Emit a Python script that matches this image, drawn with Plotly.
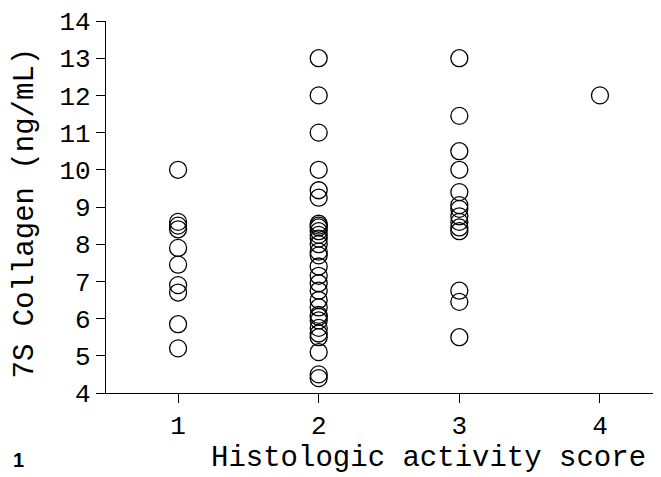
import plotly.graph_objects as go

# Histologic activity score groups and 7S collagen values (ng/mL)
score1 = [10.0, 8.6, 8.5, 8.4, 7.9, 7.45, 6.9, 6.7, 5.85, 5.2]
score2 = [13.0, 12.0, 11.0, 10.0, 9.45, 9.25, 8.55, 8.5, 8.45, 8.35, 8.25, 8.15,
          8.0, 7.8, 7.7, 7.4, 7.15, 6.95, 6.75, 6.5, 6.3, 6.1, 6.05, 5.95,
          5.75, 5.6, 5.5, 5.1, 4.5, 4.4]
score3 = [13.0, 11.45, 10.5, 10.0, 9.4, 9.05, 8.95, 8.75, 8.6, 8.45, 8.35,
          6.75, 6.45, 5.5]
score4 = [12.0]

groups = {1: score1, 2: score2, 3: score3, 4: score4}
x_ticks = [1, 2, 3, 4]
y_ticks = [4, 5, 6, 7, 8, 9, 10, 11, 12, 13, 14]

xs, ys = [], []
for k, vals in groups.items():
    xs += [k] * len(vals)
    ys += vals

fig = go.Figure()
fig.add_trace(go.Scatter(
    x=xs, y=ys, mode="markers",
    marker=dict(symbol="circle-open", size=17, color="black",
                line=dict(width=1.3, color="black")),
    showlegend=False, hoverinfo="skip"))

mono = "Liberation Mono, Courier New, monospace"
# page has an 8px body margin; figure sized to fill the rest of the window
W, H = 653, 469
L, R, T, B = 98, 0, 10, 84
PW, PH = W - L - R, H - T - B

fig.update_layout(
    width=W, height=H,
    margin=dict(l=L, r=R, t=T, b=B),
    paper_bgcolor="white", plot_bgcolor="white",
    font=dict(family=mono, color="black", size=26),
    xaxis=dict(range=[0.4875, 4.434], tickvals=x_ticks,
               ticktext=[str(v) for v in x_ticks],
               ticks="outside", ticklen=9, tickwidth=1.2, tickcolor="black",
               showline=True, linecolor="black", linewidth=1.3,
               showgrid=False, zeroline=False, fixedrange=True,
               ticklabeloverflow="allow",
               tickfont=dict(family=mono, size=26)),
    yaxis=dict(range=[4, 14], tickvals=y_ticks,
               ticktext=[str(v) for v in y_ticks],
               ticks="outside", ticklen=9, tickwidth=1.2, tickcolor="black",
               showline=True, linecolor="black", linewidth=1.3,
               showgrid=False, zeroline=False, fixedrange=True,
               ticklabeloverflow="allow",
               tickfont=dict(family=mono, size=26)),
    annotations=[
        dict(text="Histologic activity score", xref="paper", yref="paper",
             x=(420.5 - L) / PW, y=(PH - (451 - T)) / PH, showarrow=False,
             xanchor="center", yanchor="middle", borderpad=0,
             font=dict(family=mono, size=29)),
        dict(text="7S Collagen (ng/mL)", xref="paper", yref="paper",
             x=(17 - L) / PW, y=(PH - (204 - T)) / PH, showarrow=False,
             textangle=-90, xanchor="center", yanchor="middle",
             font=dict(family=mono, size=29)),
        dict(text="<b>1</b>", xref="paper", yref="paper",
             x=(10 - L) / PW, y=(PH - (453 - T)) / PH,
             showarrow=False, xanchor="center", yanchor="middle",
             font=dict(family="Liberation Sans, Arial, sans-serif", size=20)),
    ],
)

fig.write_html("out.html")
